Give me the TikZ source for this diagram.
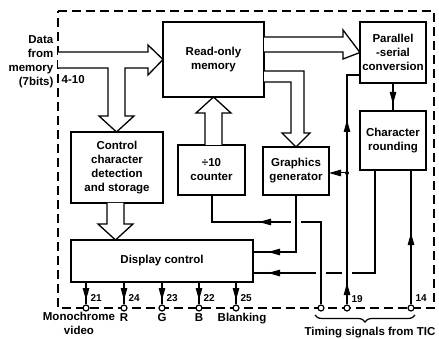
\documentclass[tikz,border=0pt]{standalone}
\usepackage{fontspec}
\setmainfont{Liberation Sans}
\usetikzlibrary{arrows.meta,decorations.pathreplacing}
\newcommand\diaglbl{\fontsize{11.5}{14}\bfseries\selectfont}
\newcommand\diagnum{\fontsize{10}{12}\bfseries\selectfont}
\begin{document}
\begin{tikzpicture}[x=1pt,y=-1pt,line width=1.3pt,
  box/.style={draw,fill=white,line width=1.4pt,inner sep=0pt,outer sep=0pt,align=center,font=\diaglbl},
  fat/.style={draw,fill=white,line width=1.3pt,line join=miter},
  pinc/.style={circle,draw,fill=white,inner sep=0pt,minimum size=6pt,line width=1.2pt},
  headarr/.style={-{Triangle[length=12pt,width=6.5pt]},line width=1pt},
  lbl/.style={font=\diaglbl,align=center,inner sep=0pt},
  numlbl/.style={font=\diagnum,inner sep=0pt,anchor=west},
  border/.style={line width=1.5pt,dash pattern=on 9pt off 5pt}]
\useasboundingbox (0,0) rectangle (439,339);

% dashed enclosure
\draw[border] (58,11) -- (434,11) -- (434,308) -- (58,308) -- cycle;

% boxes
\node[box,minimum width=101pt,minimum height=75pt] (rom) at (213.5,59.5) {Read-only\\memory};
\node[box,minimum width=92pt,minimum height=71pt] (ctrl) at (117,167.5) {Control\\character\\detection\\and storage};
\node[box,minimum width=67pt,minimum height=50pt] (cnt) at (211.5,170) {÷10\\counter};
\node[box,minimum width=66pt,minimum height=48pt] (gfx) at (296,171) {Graphics\\generator};
\node[box,minimum width=66pt,minimum height=61pt] (ps) at (393,52.5) {Parallel\\-serial\\conversion};
\node[box,minimum width=66pt,minimum height=59pt] (cr) at (393,140.5) {Character\\rounding};
\node[box,minimum width=182pt,minimum height=42pt] (disp) at (162,261) {Display control};

% hollow (bus) arrows
\draw[fat] (58,52) -- (148,52) -- (148,45) -- (rom.west) -- (148,75) -- (148,68) -- (125,68)
  -- (125,116) -- (134,116) -- (116.5,132) -- (99,116) -- (108,116) -- (108,68) -- (58,68);
\draw[fat] (107,203) -- (107,224) -- (98,224) -- (115.5,240) -- (133,224) -- (124,224) -- (124,203);
\draw[fat] (205,145) -- (205,113) -- (196,113) -- (213.5,97) -- (231,113) -- (222,113) -- (222,145);
\draw[fat] (264,71) -- (304,71) -- (304,133) -- (310,133) -- (296,147) -- (282,133) -- (291,133) -- (291,82) -- (264,82);
\draw[fat] (264,37) -- (343,37) -- (343,30) -- (ps.west) -- (343,59) -- (343,52) -- (264,52);

% pins
\node[pinc] (p21) at (86,308) {};
\node[pinc] (p24) at (124,308) {};
\node[pinc] (p23) at (162,308) {};
\node[pinc] (p22) at (199,308) {};
\node[pinc] (p25) at (236,308) {};
\node[pinc] (pt)  at (321,308) {};
\node[pinc] (p19) at (347,308) {};
\node[pinc] (p14) at (411,308) {};

% outputs
\foreach \p/\n in {p21/21,p24/24,p23/23,p22/22,p25/25}{
  \draw (\p |- disp.south) -- (\p.north);
  \draw[headarr] ([yshift=-1pt]\p |- disp.south) -- ([yshift=8pt]\p.center);
  \node[numlbl] at ([xshift=4pt,yshift=10pt]\p.center) {\n};
}

% bend points
\coordinate (k1) at (375,273);
\coordinate (k2) at (296,252);
\coordinate (k3) at (212,222);
\coordinate (k4) at (347,75);
\coordinate (k5) at (347,173);

% parallel-serial -> character rounding
\draw (ps.south) -- (cr.north);
\draw[headarr] (393,86) -- (393,104);

% character rounding -> display control (with crossing gaps)
\draw (cr.south -| k1) -- (k1) -- (352,273);
\draw (342,273) -- (326,273);
\draw (316,273) -- (k1 -| disp.east);
\draw[headarr] (283,273) -- (268,273);

% graphics generator -> display control
\draw (gfx.south) -- (gfx.south |- k2) -- (k2 -| disp.east);
\draw[headarr] (283,252) -- (268,252);

% timing -> counter
\draw (pt.north) -- (pt |- k3) -- (301,222);
\draw (291,222) -- (k3) -- (k3 |- cnt.south);
\draw[headarr] (273,222) -- (259,222);

% timing 19
\draw (p19.north) -- (p19 |- k4) -- (k4 -| ps.west);
\draw[headarr] (347,296) -- (347,283);
\draw[headarr] (347,134) -- (347,120);
\fill (k5) circle (2pt);
\draw[headarr] (k5) -- (k5 -| gfx.east);
\node[numlbl] at (351,299) {19};

% timing 14
\draw (p14.north) -- (p14 |- cr.south);
\draw[headarr] (411,248) -- (411,233);
\node[numlbl] at (415,298) {14};

% texts
\node[lbl,anchor=east,align=right] at (54,62) {Data\\from\\memory\\(7bits)};
\node[lbl,anchor=west] at (61,80) {4-10};
\node[lbl] at (79,323) {Monochrome\\video};
\node[lbl] at (124,318) {R};
\node[lbl] at (162,318) {G};
\node[lbl] at (199,318) {B};
\node[lbl] at (242,319) {Blanking};
\draw[line width=1.2pt,decorate,decoration={brace,mirror,amplitude=7pt}] (315,315) -- (415,315);
\node[lbl] at (370,333) {Timing signals from TIC};
\end{tikzpicture}
\end{document}
